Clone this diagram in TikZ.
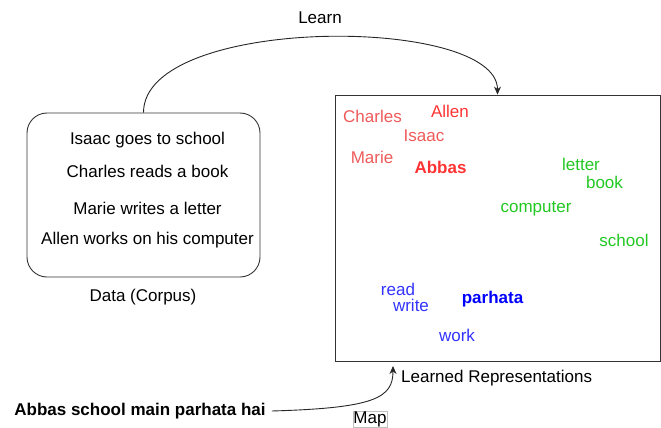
\documentclass[tikz,border=0pt]{standalone}
\usepackage{fontspec}
\setmainfont{Liberation Sans}
\usetikzlibrary{arrows.meta}
\definecolor{lred}{HTML}{EE5A5A}
\definecolor{sred}{HTML}{FF3333}
\definecolor{mgreen}{HTML}{22C822}
\definecolor{mblue}{HTML}{3333FF}
\definecolor{dblue}{HTML}{0000FF}
\tikzset{
  txt/.style={font=\fontsize{17}{20}\selectfont, inner sep=0pt, anchor=center},
  wred/.style={txt, text=lred},
  wsred/.style={txt, text=sred, font=\fontsize{17}{20}\selectfont\bfseries},
  wgreen/.style={txt, text=mgreen},
  wblue/.style={txt, text=mblue},
  boxline/.style={draw=black!80, line width=0.9pt},
  conn/.style={draw=black!85, line width=0.9pt, -{Stealth[length=8pt,width=7pt]}},
}
\begin{document}
\begin{tikzpicture}[x=1pt,y=-1pt]
\useasboundingbox (0,0) rectangle (661,428);
% corpus box
\node[boxline, rounded corners=20pt, minimum width=233pt, minimum height=164pt, inner sep=0pt] (corpus) at (143.5,195) {};
\node[txt] (s1) at (147.5,140) {Isaac goes to school};
\node[txt] (s2) at (147.5,171) {Charles reads a book};
\node[txt] (s3) at (147.5,208) {Marie writes a letter};
\node[txt] (s4) at (147.5,240) {Allen works on his computer};
\node[txt] (datalbl) at (143,297) {Data (Corpus)};
% representation box
\node[boxline, minimum width=325pt, minimum height=266pt, inner sep=0pt] (rep) at (497.5,228) {};
\node[wred] (charles) at (372.5,116.5) {Charles};
\node[txt, text=sred] (allen) at (450,111) {Allen};
\node[wred] (isaac) at (424,135.5) {Isaac};
\node[wred] (marie) at (372,157.5) {Marie};
\node[wsred] (abbas) at (440.5,167.5) {Abbas};
\node[wgreen] (letter) at (581,164) {letter};
\node[wgreen] (book) at (604.5,182.5) {book};
\node[wgreen] (computer) at (536,209) {computer};
\node[wgreen] (school) at (624,240) {school};
\node[wblue] (read) at (398,289) {read};
\node[wblue] (write) at (411,305.5) {write};
\node[txt, text=dblue, font=\fontsize{17}{20}\selectfont\bfseries] (parhata) at (492.5,299) {parhata};
\node[wblue] (work) at (457,335) {work};
\node[txt, anchor=west] (replbl) at (401,378) {Learned Representations};
% learn arrow
\node[txt] (learn) at (320,18) {Learn};
\draw[conn] (corpus.north) .. controls (143.5,15) and (497.5,15) .. (rep.north);
% map
\node[txt, font=\fontsize{17}{20}\selectfont\bfseries, inner sep=6pt] (sent) at (140,411) {Abbas school main parhata hai};
\coordinate (maptip) at (393,366);
\draw[conn] (sent.east) .. controls (375,408) and (393,398) .. (maptip);
\node[txt, draw=black!25, line width=0.5pt, fill=white, inner sep=0.5pt] (map) at (370,419) {Map};
\end{tikzpicture}
\end{document}
